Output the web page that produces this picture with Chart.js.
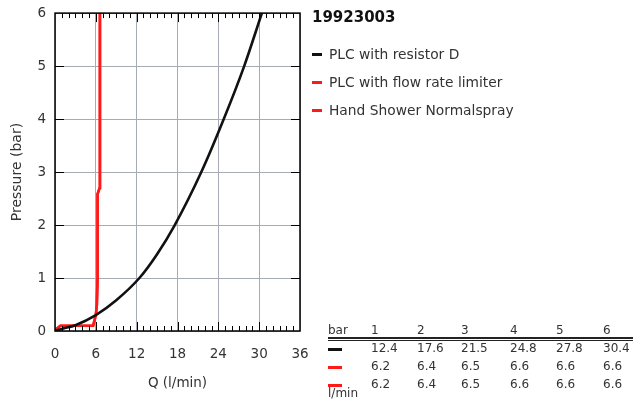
<!DOCTYPE html>
<html>
<head>
<meta charset="utf-8">
<script src="https://cdn.jsdelivr.net/npm/chart.js@4"></script>
<style>
  html, body { margin: 0; padding: 0; background: #fff; }
  body { width: 633px; height: 403px; position: relative; overflow: hidden;
         font-family: "DejaVu Sans", sans-serif; color: #333; }
  #wrap { position: absolute; left: 0; top: -4px; width: 633px; height: 407px; }
  .abs { position: absolute; white-space: nowrap; }
  #title { left: 312px; top: 8px; font-size: 15px; font-weight: bold; color: #111; }
  .leg { left: 312px; font-size: 13.8px; }
  .leg i { display: inline-block; width: 10px; height: 3px; vertical-align: middle; margin-right: 7px; margin-top: -2px; }
  #tbl { left: 328px; top: 323px; font-size: 12px; }
  #tbl .hl { position: absolute; left: 0; width: 305px; height: 2px; background: #222; top: 14px; }
  #tbl .hl2 { position: absolute; left: 0; width: 305px; height: 1px; background: #222; top: 17px; }
  .cell { position: absolute; }
  .sw { position: absolute; width: 14px; height: 3px; }
</style>
</head>
<body>
<div id="wrap"><canvas id="chart"></canvas></div>
<div id="title" class="abs">19923003</div>
<div id="legend"></div>
<div id="tbl" class="abs"></div>
<script>
'use strict';

/* ── Données ── */
var SERIES_NAMES = ['PLC with resistor D', 'PLC with flow rate limiter', 'Hand Shower Normalspray'];
var SERIES_COLORS = ['#111111', '#ff1a1a', '#ff1a1a'];

var resistorQ = [0, 1, 3, 6, 9, 12.4, 15, 17.6, 21.5, 24.8, 27.8, 30.4];
var resistorP = [0, 0.04, 0.11, 0.3, 0.58, 1, 1.45, 2, 3, 4, 5, 6];

var limiterQ = [0, 0.3, 0.8, 5.6, 6.0, 6.15, 6.25, 6.25, 6.55, 6.6, 6.6];
var limiterP = [0, 0.05, 0.1, 0.1, 0.3, 0.5, 1.0, 2.58, 2.7, 3.5, 6];

var showerQ = [0, 0.3, 0.8, 5.6, 6.0, 6.15, 6.25, 6.25, 6.55, 6.6, 6.6];
var showerP = [0, 0.05, 0.1, 0.1, 0.3, 0.5, 1.0, 2.58, 2.7, 3.5, 6];

var X_TICKS = [0, 6, 12, 18, 24, 30, 36];
var Y_TICKS = [0, 1, 2, 3, 4, 5, 6];

/* tableau récapitulatif */
var TABLE_BAR = ['1', '2', '3', '4', '5', '6'];
var TABLE_ROWS = [
    ['12.4', '17.6', '21.5', '24.8', '27.8', '30.4'],
    ['6.2', '6.4', '6.5', '6.6', '6.6', '6.6'],
    ['6.2', '6.4', '6.5', '6.6', '6.6', '6.6']
];

function toPoints(xs, ys) {
    return xs.map(function (x, i) { return { x: x, y: ys[i] }; });
}

/* ── Légende + tableau en HTML ── */
(function () {
    var leg = document.getElementById('legend');
    SERIES_NAMES.forEach(function (n, i) {
        var d = document.createElement('div');
        d.className = 'abs leg';
        d.style.top = (46 + i * 28) + 'px';
        d.innerHTML = '<i style="background:' + SERIES_COLORS[i] + '"></i>' + n;
        leg.appendChild(d);
    });

    var t = document.getElementById('tbl');
    var cols = [43, 89, 133, 182, 228, 275];
    var html = '<span class="cell" style="left:0;top:0">bar</span>';
    TABLE_BAR.forEach(function (b, j) {
        html += '<span class="cell" style="left:' + cols[j] + 'px;top:0">' + b + '</span>';
    });
    html += '<div class="hl"></div><div class="hl2"></div>';
    TABLE_ROWS.forEach(function (row, i) {
        var top = 18 + i * 18;
        html += '<div class="sw" style="left:0;top:' + (top + 7) + 'px;background:' + SERIES_COLORS[i] + '"></div>';
        row.forEach(function (v, j) {
            html += '<span class="cell" style="left:' + cols[j] + 'px;top:' + top + 'px">' + v + '</span>';
        });
    });
    html += '<span class="cell" style="left:0;top:63px">l/min</span>';
    t.innerHTML = html;
})();

/* ── Graduations et cadre (style gnuplot) ── */
var frameTicks = {
    id: 'frameTicks',
    afterDatasetsDraw: function (chart) {
        var c = chart.ctx, a = chart.chartArea;
        var xs = chart.scales.x, ys = chart.scales.y;
        c.save();
        c.strokeStyle = '#000';
        c.lineWidth = 1;
        c.beginPath();
        var q, px, py;
        for (q = 1; q < 36; q++) {
            px = Math.round(xs.getPixelForValue(q)) + 0.5;
            var len = (q % 6 === 0) ? 9 : 5;
            c.moveTo(px, a.bottom); c.lineTo(px, a.bottom - len);
            c.moveTo(px, a.top); c.lineTo(px, a.top + len);
        }
        for (q = 1; q < 6; q++) {
            py = Math.round(ys.getPixelForValue(q)) + 0.5;
            c.moveTo(a.left, py); c.lineTo(a.left + 9, py);
            c.moveTo(a.right, py); c.lineTo(a.right - 9, py);
        }
        c.stroke();
        c.lineWidth = 1.5;
        c.strokeRect(a.left, a.top, a.right - a.left, a.bottom - a.top);
        c.restore();
    }
};

var FONT = { family: 'DejaVu Sans', size: 13.5 };

var ctx = document.getElementById('chart');
new Chart(ctx, {
    type: 'scatter',
    data: {
        datasets: [
            { label: SERIES_NAMES[0], data: toPoints(resistorQ, resistorP), borderColor: SERIES_COLORS[0], cubicInterpolationMode: 'monotone' },
            { label: SERIES_NAMES[1], data: toPoints(limiterQ, limiterP), borderColor: SERIES_COLORS[1] },
            { label: SERIES_NAMES[2], data: toPoints(showerQ, showerP), borderColor: SERIES_COLORS[2] }
        ].map(function (ds) {
            ds.showLine = true;
            ds.borderWidth = 2.6;
            ds.pointRadius = 0;
            ds.fill = false;
            return ds;
        })
    },
    options: {
        responsive: true,
        maintainAspectRatio: false,
        animation: false,
        layout: { padding: { top: 4, right: 333, left: 0, bottom: 0 } },
        plugins: { legend: { display: false }, tooltip: { enabled: false } },
        scales: {
            x: {
                type: 'linear', min: 0, max: 36,
                afterBuildTicks: function (s) { s.ticks = X_TICKS.map(function (v) { return { value: v }; }); },
                afterFit: function (s) { s.height = 72; },
                ticks: { color: '#333', font: FONT, padding: 15, maxRotation: 0 },
                grid: { color: '#a7abb6', drawTicks: false },
                border: { display: false },
                title: { display: true, text: 'Q (l/min)', color: '#333', font: { family: 'DejaVu Sans', size: 13.5 }, padding: { top: 4, bottom: 11 } }
            },
            y: {
                type: 'linear', min: 0, max: 6,
                afterBuildTicks: function (s) { s.ticks = Y_TICKS.map(function (v) { return { value: v }; }); },
                afterFit: function (s) { s.width = 55; },
                ticks: { color: '#333', font: FONT, padding: 9 },
                grid: { color: '#a7abb6', drawTicks: false },
                border: { display: false },
                title: { display: true, text: 'Pressure (bar)', color: '#333', font: { family: 'DejaVu Sans', size: 14 }, padding: { top: 9, bottom: 4 } }
            }
        }
    },
    plugins: [frameTicks]
});
</script>
</body>
</html>
